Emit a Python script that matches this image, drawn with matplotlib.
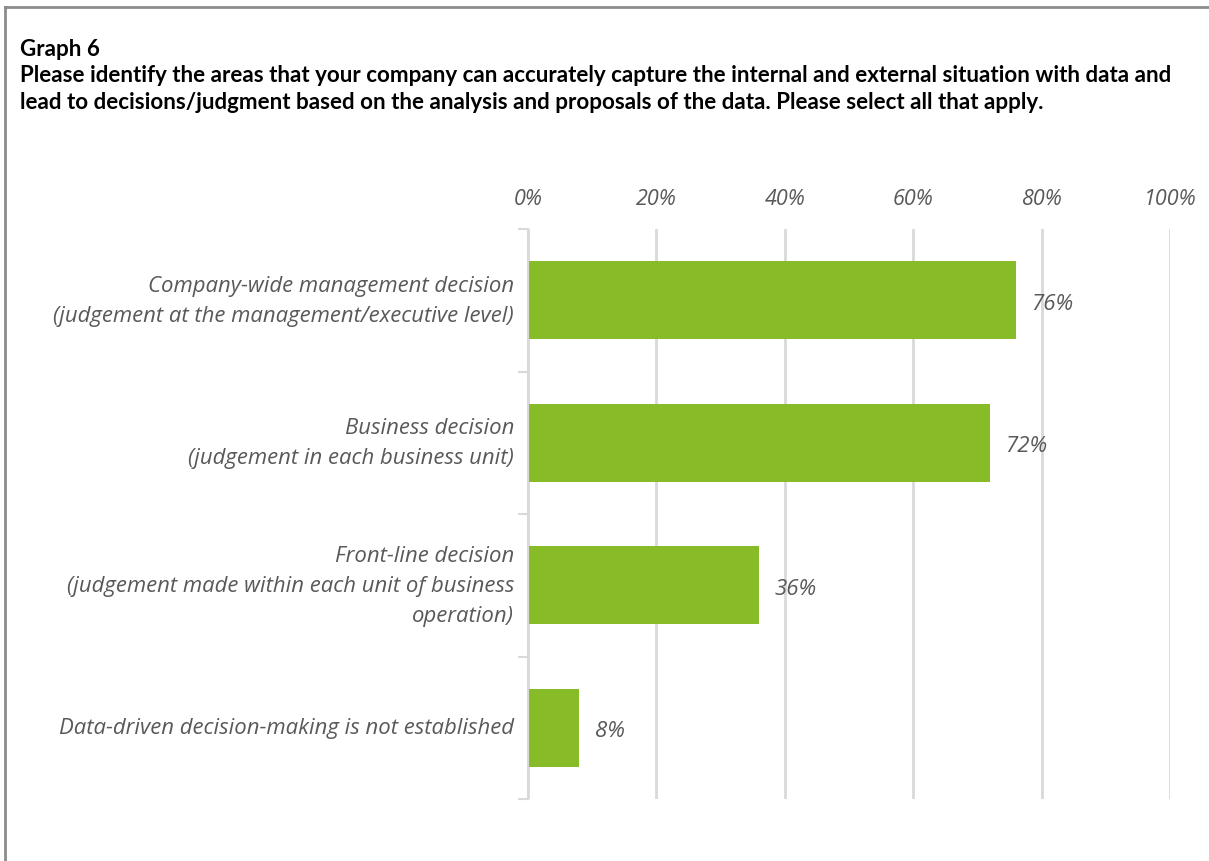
import matplotlib.pyplot as plt
from matplotlib.lines import Line2D
from matplotlib.ticker import FixedLocator

categories = [
    "Company-wide management decision\n(judgement at the management/executive level)",
    "Business decision\n(judgement in each business unit)",
    "Front-line decision\n(judgement made within each unit of business\noperation)",
    "Data-driven decision-making is not established",
]
values = [76, 72, 36, 8]
xticks = [0, 20, 40, 60, 80, 100]

title = ("Graph 6\n"
         "Please identify the areas that your company can accurately capture the internal and external situation with data and\n"
         "lead to decisions/judgment based on the analysis and proposals of the data. Please select all that apply.")

green = "#87BC28"
grid_gray = "#D9D9D9"
text_gray = "#595959"

fig = plt.figure(figsize=(12.09, 8.62), dpi=100)
ax = fig.add_axes([528 / 1209, 1 - 800 / 862, 642 / 1209, 570 / 862])

ypos = list(range(len(categories)))
ax.barh(ypos, values, height=0.55, color=green, zorder=3)
for y, v in zip(ypos, values):
    ax.annotate(f"{v}%", (v, y), xytext=(11, -2), textcoords="offset points",
                ha="left", va="center", fontsize=16, style="italic",
                family="Open Sans", color=text_gray, zorder=4)

ax.set_xlim(0, 100)
ax.set_ylim(len(categories) - 0.5, -0.5)
ax.xaxis.tick_top()
ax.set_xticks(xticks)
ax.set_xticklabels([f"{t}%" for t in xticks])
ax.tick_params(axis="x", length=0, pad=14.5, labelsize=15.5, labelcolor=text_gray)
ax.set_yticks(ypos)
ax.set_yticklabels(categories, ha="right", va="center", linespacing=1.55)
ax.tick_params(axis="y", which="major", length=0, pad=10, labelsize=15.9, labelcolor=text_gray)
ax.yaxis.set_minor_locator(FixedLocator([-0.5, 0.5, 1.5, 2.5, 3.5]))
ax.tick_params(axis="y", which="minor", length=7, width=1.5, color=grid_gray)
for lab in ax.get_xticklabels() + ax.get_yticklabels():
    lab.set_fontstyle("italic")
    lab.set_family("Open Sans")

ax.grid(axis="x", color=grid_gray, linewidth=2, zorder=0)
for s in ["top", "right", "bottom"]:
    ax.spines[s].set_visible(False)
ax.spines["left"].set_color(grid_gray)
ax.spines["left"].set_linewidth(1.5)
ax.spines["left"].set_zorder(5)

fig.text(20 / 1209, 1 - 39 / 862, title, ha="left", va="top", fontsize=16.1,
         weight="bold", family="Lato", color="black", linespacing=1.31)

# outer frame (top and left edges visible)
fig.add_artist(Line2D([5 / 1209, 1], [1 - 8 / 862, 1 - 8 / 862], color="#8C8C8C", linewidth=2))
fig.add_artist(Line2D([5 / 1209, 5 / 1209], [0, 1 - 8 / 862], color="#8C8C8C", linewidth=2))

fig.savefig("out.png", dpi=100, facecolor="white")
